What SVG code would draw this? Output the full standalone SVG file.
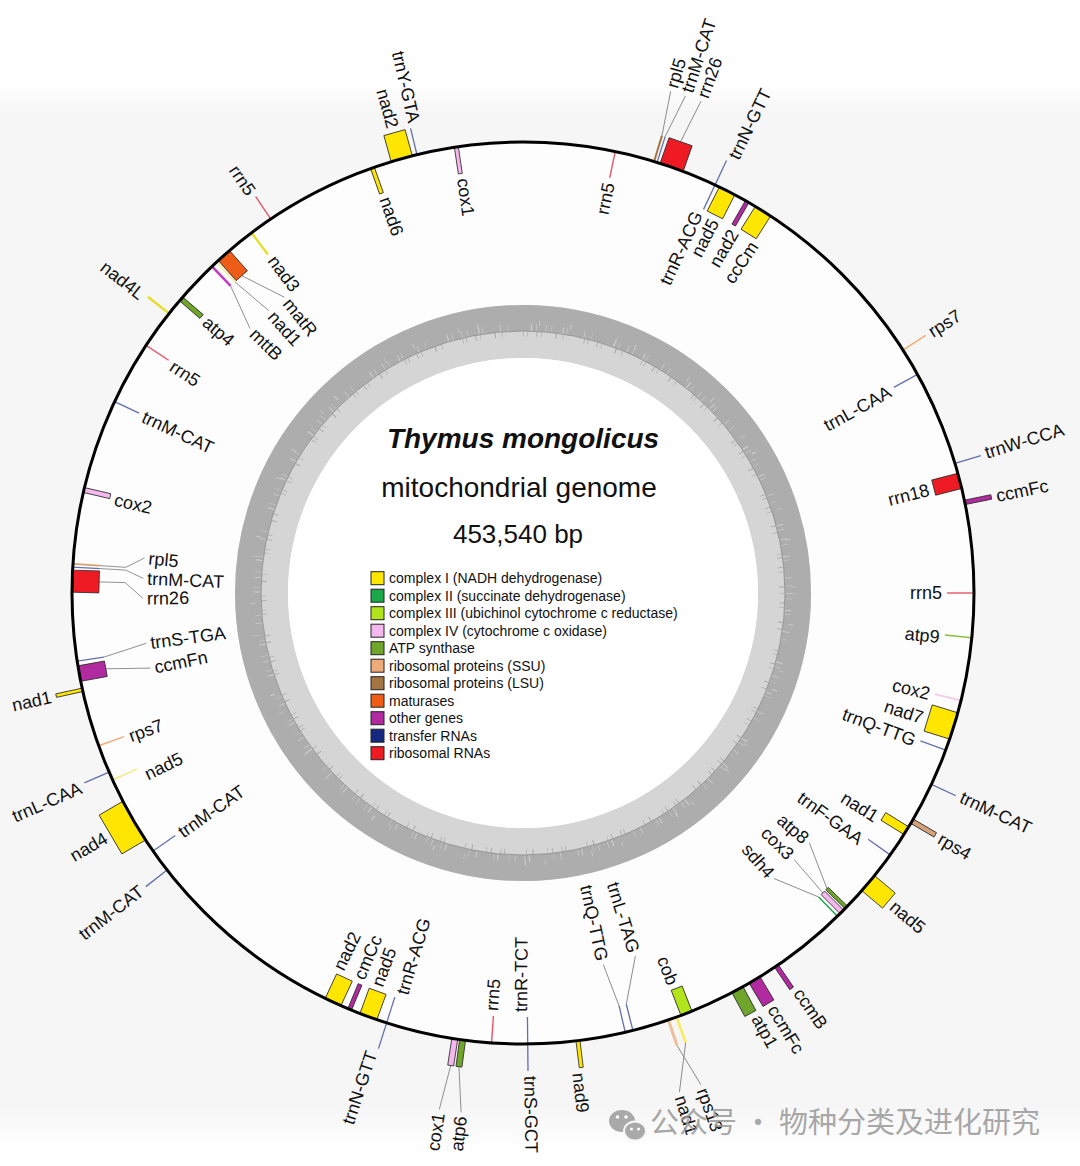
<svg xmlns="http://www.w3.org/2000/svg" width="1080" height="1166" viewBox="0 0 1080 1166">
<defs>
<linearGradient id="bgg" x1="0" y1="0" x2="0" y2="1">
<stop offset="0" stop-color="#ffffff"/><stop offset="0.025" stop-color="#f6f6f6"/><stop offset="0.96" stop-color="#f6f6f6"/><stop offset="1" stop-color="#ffffff"/>
</linearGradient>
</defs>
<style>
.lb{font-family:"Liberation Sans",Arial,Helvetica,sans-serif;font-size:18px;fill:#111}
.e{text-anchor:end}
.lg{font-family:"Liberation Sans",Arial,Helvetica,sans-serif;font-size:14px;fill:#111}
.bx{stroke:#2a2a2a;stroke-width:0.8}
.c1{fill:#ffe600}.c2{fill:#1aa84a}.c3{fill:#b2e41c}.c4{fill:#f4b8ee}.atp{fill:#6ea52a}.ssu{fill:#eeab7a}.lsu{fill:#a47443}.mat{fill:#ef5c17}.oth{fill:#b22aa0}.trn{fill:#15287f}.rrn{fill:#ee1b24}
.tl{fill:#3d4c96;opacity:0.8}
.rl{fill:#e2384c;opacity:0.85}
.ld{fill:none;stroke:#8a8a8a;stroke-width:0.9}
</style>
<rect x="0" y="0" width="1080" height="1166" fill="#ffffff"/>
<rect x="0" y="85" width="1080" height="1065" fill="url(#bgg)"/>

<g transform="translate(523,593)">
  <circle r="451" fill="#fdfdfd"/>
  <g id="gc-ring">
    <circle r="261.5" fill="none" stroke="#d5d5d5" stroke-width="53"/>
    <circle r="275" fill="none" stroke="#adadad" stroke-width="26"/>
    <circle r="265.5" fill="none" stroke="#cdcdcd" stroke-width="7" stroke-dasharray="0.7 5 0.5 11 1 3 0.6 17 0.8 7 0.5 23 1.2 4 0.6 9"/>
    <circle r="270" fill="none" stroke="#d0d0d0" stroke-width="5" stroke-dasharray="0.6 31 0.8 47 0.6 19 1 61"/>
    <circle r="259" fill="none" stroke="#a6a6a6" stroke-width="5" stroke-dasharray="0.6 9 0.8 4 0.5 14 1 6 0.6 21 0.7 3"/>
    <circle r="262" fill="none" stroke="#8a8a8a" stroke-width="0.8"/>
    <circle r="235" fill="#ffffff"/>
  </g>

  <g id="connectors">
    <polyline class="ld" transform="rotate(16.9)" points="0,-478 -4.6,-523"/>
    <polyline class="ld" transform="rotate(17.3)" points="0,-478 7.3,-523"/>
    <polyline class="ld" transform="rotate(19.25)" points="0,-478 5.9,-523"/>
    <polyline class="ld" transform="rotate(134.2)" points="0,-424 -20.6,-379.4"/>
    <polyline class="ld" transform="rotate(135)" points="0,-424 -3.3,-380"/>
    <polyline class="ld" transform="rotate(135.8)" points="0,-424 19.2,-379.5"/>
    <polyline class="ld" transform="rotate(160.1)" points="0,-478 22.8,-522.5"/>
    <polyline class="ld" transform="rotate(161.2)" points="0,-478 -10,-522.9"/>
    <polyline class="ld" transform="rotate(165.9)" points="0,-424 -20.6,-379.4"/>
    <polyline class="ld" transform="rotate(166.9)" points="0,-424 6,-380"/>
    <polyline class="ld" transform="rotate(187.7)" points="0,-478 -8.2,-522.9"/>
    <polyline class="ld" transform="rotate(188.7)" points="0,-478 4.6,-523"/>
    <polyline class="ld" transform="rotate(259.7)" points="0,-424 -7.3,-379.9"/>
    <polyline class="ld" transform="rotate(261.3)" points="0,-424 7.3,-379.9"/>
    <polyline class="ld" transform="rotate(271.5)" points="0,-424 0,-398 -15.3,-379.7"/>
    <polyline class="ld" transform="rotate(273.3)" points="0,-424 0,-398 -7.3,-379.9"/>
    <polyline class="ld" transform="rotate(273.7)" points="0,-424 0,-398 10.6,-379.9"/>
    <polyline class="ld" transform="rotate(316.4)" points="0,-424 -15.3,-379.7"/>
    <polyline class="ld" transform="rotate(317.2)" points="0,-424 5.3,-380"/>
    <polyline class="ld" transform="rotate(318.45)" points="0,-424 17.6,-379.6"/>
  </g>

  <g id="rrn5-1"><rect class="rl" x="-0.7" y="-451" width="1.4" height="27" transform="rotate(11.8)"/><text class="lb e" transform="rotate(11.8) translate(0,-419) rotate(-90)" dy=".35em">rrn5</text></g>
  <g id="rpl5-1"><rect class="lsu" x="-1" y="-478" width="2" height="27" transform="rotate(16.9)"/><text class="lb" transform="rotate(16.4) translate(0,-527) rotate(-90)" dy=".35em">rpl5</text></g>
  <g id="trnM-CAT-1"><rect class="tl" x="-0.65" y="-478" width="1.3" height="27" transform="rotate(17.3)"/><text class="lb" transform="rotate(18.1) translate(0,-527) rotate(-90)" dy=".35em">trnM-CAT</text></g>
  <g id="rrn26-1"><rect class="rrn bx" x="-12.2" y="-478" width="24.4" height="27" transform="rotate(19.25)"/><text class="lb" transform="rotate(19.9) translate(0,-527) rotate(-90)" dy=".35em">rrn26</text></g>
  <g id="trnN-GTT-1"><rect class="tl" x="-0.65" y="-478" width="1.3" height="27" transform="rotate(25.2)"/><text class="lb" transform="rotate(25.8) translate(0,-483) rotate(-90)" dy=".35em">trnN-GTT</text></g>
  <g id="trnR-ACG-1"><rect class="tl" x="-0.65" y="-451" width="1.3" height="27" transform="rotate(25.2)"/><text class="lb e" transform="rotate(24.6) translate(0,-419) rotate(-90)" dy=".35em">trnR-ACG</text></g>
  <g id="nad5-1"><rect class="c1 bx" x="-8.6" y="-451" width="17.3" height="27" transform="rotate(26.9)"/><text class="lb e" transform="rotate(27.1) translate(0,-419) rotate(-90)" dy=".35em">nad5</text></g>
  <g id="nad2-1"><rect class="oth bx" x="-2" y="-451" width="4" height="27" transform="rotate(29.8)"/><text class="lb e" transform="rotate(30.2) translate(0,-419) rotate(-90)" dy=".35em">nad2</text></g>
  <g id="ccCm"><rect class="c1 bx" x="-9" y="-451" width="18" height="27" transform="rotate(32.15)"/><text class="lb e" transform="rotate(33.4) translate(0,-419) rotate(-90)" dy=".35em">ccCm</text></g>
  <g id="rps7-1"><rect class="ssu" x="-0.75" y="-478" width="1.5" height="27" transform="rotate(57.4)"/><text class="lb" transform="rotate(57.4) translate(0,-483) rotate(-90)" dy=".35em">rps7</text></g>
  <g id="trnL-CAA-1"><rect class="tl" x="-0.65" y="-451" width="1.3" height="27" transform="rotate(61)"/><text class="lb e" transform="rotate(61.1) translate(0,-419) rotate(-90)" dy=".35em">trnL-CAA</text></g>
  <g id="trnW-CCA"><rect class="tl" x="-0.65" y="-478" width="1.3" height="27" transform="rotate(73.3)"/><text class="lb" transform="rotate(73.1) translate(0,-483) rotate(-90)" dy=".35em">trnW-CCA</text></g>
  <g id="rrn18"><rect class="rrn bx" x="-7.8" y="-451" width="15.7" height="27" transform="rotate(75.6)"/><text class="lb e" transform="rotate(75.7) translate(0,-419) rotate(-90)" dy=".35em">rrn18</text></g>
  <g id="ccmFc-1"><rect class="oth bx" x="-2.2" y="-478" width="4.5" height="27" transform="rotate(78.4)"/><text class="lb" transform="rotate(78.4) translate(0,-483) rotate(-90)" dy=".35em">ccmFc</text></g>
  <g id="rrn5-2"><rect class="rl" x="-0.7" y="-451" width="1.4" height="27" transform="rotate(90)"/><text class="lb e" transform="rotate(90) translate(0,-419) rotate(-90)" dy=".35em">rrn5</text></g>
  <g id="atp9"><rect fill="#8cbf38" x="-0.75" y="-451" width="1.5" height="27" transform="rotate(95.7)"/><text class="lb e" transform="rotate(96) translate(0,-419) rotate(-90)" dy=".35em">atp9</text></g>
  <g id="cox2-1"><rect fill="#f3cdea" x="-1" y="-451" width="2" height="27" transform="rotate(103.8)"/><text class="lb e" transform="rotate(103.9) translate(0,-419) rotate(-90)" dy=".35em">cox2</text></g>
  <g id="nad7"><rect class="c1 bx" x="-13.75" y="-451" width="27.5" height="27" transform="rotate(107.15)"/><text class="lb e" transform="rotate(107.3) translate(0,-419) rotate(-90)" dy=".35em">nad7</text></g>
  <g id="trnQ-TTG-1"><rect class="tl" x="-0.65" y="-451" width="1.3" height="27" transform="rotate(110.4)"/><text class="lb e" transform="rotate(110.6) translate(0,-419) rotate(-90)" dy=".35em">trnQ-TTG</text></g>
  <g id="trnM-CAT-2"><rect class="tl" x="-0.65" y="-478" width="1.3" height="27" transform="rotate(115.1)"/><text class="lb" transform="rotate(114.9) translate(0,-483) rotate(-90)" dy=".35em">trnM-CAT</text></g>
  <g id="rps4"><rect fill="#d6a27a" class="bx" x="-2.5" y="-478" width="5" height="27" transform="rotate(120.4)"/><text class="lb" transform="rotate(120.4) translate(0,-483) rotate(-90)" dy=".35em">rps4</text></g>
  <g id="nad1-1"><rect class="c1 bx" x="-4.5" y="-451" width="9" height="27" transform="rotate(121.8)"/><text class="lb e" transform="rotate(122.4) translate(0,-419) rotate(-90)" dy=".35em">nad1</text></g>
  <g id="trnF-GAA"><rect class="tl" x="-0.65" y="-451" width="1.3" height="27" transform="rotate(125.5)"/><text class="lb e" transform="rotate(126.2) translate(0,-419) rotate(-90)" dy=".35em">trnF-GAA</text></g>
  <g id="nad5-2"><rect class="c1 bx" x="-9.85" y="-478" width="19.7" height="27" transform="rotate(130.05)"/><text class="lb" transform="rotate(130.1) translate(0,-483) rotate(-90)" dy=".35em">nad5</text></g>
  <g id="atp8"><rect class="atp bx" x="-1.75" y="-451" width="3.5" height="27" transform="rotate(134.2)"/><text class="lb e" transform="rotate(131.1) translate(0,-376) rotate(-90)" dy=".35em">atp8</text></g>
  <g id="cox3"><rect class="c4 bx" x="-2.5" y="-451" width="5" height="27" transform="rotate(135)"/><text class="lb e" transform="rotate(134.5) translate(0,-376) rotate(-90)" dy=".35em">cox3</text></g>
  <g id="sdh4"><rect class="c2" x="-0.75" y="-451" width="1.5" height="27" transform="rotate(135.8)"/><text class="lb e" transform="rotate(138.7) translate(0,-376) rotate(-90)" dy=".35em">sdh4</text></g>
  <g id="ccmB"><rect class="oth bx" x="-2.2" y="-478" width="4.5" height="27" transform="rotate(145.8)"/><text class="lb" transform="rotate(145.3) translate(0,-483) rotate(-90)" dy=".35em">ccmB</text></g>
  <g id="ccmFc-2"><rect class="oth bx" x="-6.3" y="-478" width="12.6" height="27" transform="rotate(149.1)"/><text class="lb" transform="rotate(148.9) translate(0,-483) rotate(-90)" dy=".35em">ccmFc</text></g>
  <g id="atp1"><rect class="atp bx" x="-6.3" y="-478" width="12.6" height="27" transform="rotate(151.6)"/><text class="lb" transform="rotate(151.1) translate(0,-483) rotate(-90)" dy=".35em">atp1</text></g>
  <g id="cob"><rect class="c3 bx" x="-5.9" y="-451" width="11.8" height="27" transform="rotate(158.75)"/><text class="lb e" transform="rotate(159) translate(0,-419) rotate(-90)" dy=".35em">cob</text></g>
  <g id="nad1-2"><rect fill="#f8ec70" x="-1.5" y="-478" width="3" height="27" transform="rotate(160.1)"/><text class="lb" transform="rotate(162.6) translate(0,-527) rotate(-90)" dy=".35em">nad1</text></g>
  <g id="rps13"><rect fill="#eec09a" x="-1.5" y="-478" width="3" height="27" transform="rotate(161.2)"/><text class="lb" transform="rotate(160.1) translate(0,-527) rotate(-90)" dy=".35em">rps13</text></g>
  <g id="trnL-TAG"><rect class="tl" x="-0.65" y="-451" width="1.3" height="27" transform="rotate(165.9)"/><text class="lb e" transform="rotate(162.8) translate(0,-376) rotate(-90)" dy=".35em">trnL-TAG</text></g>
  <g id="trnQ-TTG-2"><rect class="tl" x="-0.65" y="-451" width="1.3" height="27" transform="rotate(166.9)"/><text class="lb e" transform="rotate(167.8) translate(0,-376) rotate(-90)" dy=".35em">trnQ-TTG</text></g>
  <g id="nad9"><rect class="c1 bx" x="-2" y="-478" width="4" height="27" transform="rotate(173)"/><text class="lb" transform="rotate(173.4) translate(0,-483) rotate(-90)" dy=".35em">nad9</text></g>
  <g id="trnS-GCT"><rect class="tl" x="-0.65" y="-478" width="1.3" height="27" transform="rotate(179.4)"/><text class="lb" transform="rotate(179.1) translate(0,-483) rotate(-90)" dy=".35em">trnS-GCT</text></g>
  <g id="trnR-TCT"><rect class="tl" x="-0.65" y="-451" width="1.3" height="27" transform="rotate(179.4)"/><text class="lb" transform="rotate(180.3) translate(0,-419) rotate(90)" dy=".35em">trnR-TCT</text></g>
  <g id="rrn5-3"><rect class="rl" x="-0.7" y="-451" width="1.4" height="27" transform="rotate(184)"/><text class="lb" transform="rotate(184.3) translate(0,-419) rotate(90)" dy=".35em">rrn5</text></g>
  <g id="atp6"><rect class="atp bx" x="-3" y="-478" width="6" height="27" transform="rotate(187.7)"/><text class="lb e" transform="rotate(186.8) translate(0,-527) rotate(90)" dy=".35em">atp6</text></g>
  <g id="cox1-2"><rect class="c4 bx" x="-3" y="-478" width="6" height="27" transform="rotate(188.7)"/><text class="lb e" transform="rotate(189.2) translate(0,-527) rotate(90)" dy=".35em">cox1</text></g>
  <g id="trnN-GTT-2"><rect class="tl" x="-0.65" y="-478" width="1.3" height="27" transform="rotate(197.6)"/><text class="lb e" transform="rotate(198.3) translate(0,-483) rotate(90)" dy=".35em">trnN-GTT</text></g>
  <g id="trnR-ACG-2"><rect class="tl" x="-0.65" y="-451" width="1.3" height="27" transform="rotate(197.6)"/><text class="lb" transform="rotate(196.8) translate(0,-419) rotate(90)" dy=".35em">trnR-ACG</text></g>
  <g id="nad5-3"><rect class="c1 bx" x="-9" y="-451" width="18" height="27" transform="rotate(200.05)"/><text class="lb" transform="rotate(200.4) translate(0,-419) rotate(90)" dy=".35em">nad5</text></g>
  <g id="cmCc"><rect class="oth bx" x="-2" y="-451" width="4" height="27" transform="rotate(202.6)"/><text class="lb" transform="rotate(203.1) translate(0,-419) rotate(90)" dy=".35em">cmCc</text></g>
  <g id="nad2-2"><rect class="c1 bx" x="-8.6" y="-451" width="17.3" height="27" transform="rotate(204.9)"/><text class="lb" transform="rotate(206.2) translate(0,-419) rotate(90)" dy=".35em">nad2</text></g>
  <g id="trnM-CAT-3"><rect class="tl" x="-0.65" y="-478" width="1.3" height="27" transform="rotate(232.1)"/><text class="lb e" transform="rotate(232.2) translate(0,-483) rotate(90)" dy=".35em">trnM-CAT</text></g>
  <g id="trnM-CAT-4"><rect class="tl" x="-0.65" y="-451" width="1.3" height="27" transform="rotate(235.1)"/><text class="lb" transform="rotate(235) translate(0,-419) rotate(90)" dy=".35em">trnM-CAT</text></g>
  <g id="nad4"><rect class="c1 bx" x="-22.45" y="-478" width="44.9" height="27" transform="rotate(239.65)"/><text class="lb e" transform="rotate(239.7) translate(0,-483) rotate(90)" dy=".35em">nad4</text></g>
  <g id="nad5-4"><rect fill="#f4ea80" x="-0.75" y="-451" width="1.5" height="27" transform="rotate(245.5)"/><text class="lb" transform="rotate(244.3) translate(0,-419) rotate(90)" dy=".35em">nad5</text></g>
  <g id="trnL-CAA-2"><rect class="tl" x="-0.65" y="-478" width="1.3" height="27" transform="rotate(246.6)"/><text class="lb e" transform="rotate(246.3) translate(0,-483) rotate(90)" dy=".35em">trnL-CAA</text></g>
  <g id="rps7-2"><rect class="ssu" x="-0.75" y="-451" width="1.5" height="27" transform="rotate(250.2)"/><text class="lb" transform="rotate(250) translate(0,-419) rotate(90)" dy=".35em">rps7</text></g>
  <g id="nad1-3"><rect class="c1 bx" x="-1.75" y="-478" width="3.5" height="27" transform="rotate(257.6)"/><text class="lb e" transform="rotate(257.6) translate(0,-483) rotate(90)" dy=".35em">nad1</text></g>
  <g id="ccmFn"><rect class="oth bx" x="-7.8" y="-451" width="15.7" height="27" transform="rotate(259.7)"/><text class="lb" transform="rotate(258.6) translate(0,-376) rotate(90)" dy=".35em">ccmFn</text></g>
  <g id="trnS-TGA"><rect class="tl" x="-0.65" y="-451" width="1.3" height="27" transform="rotate(261.3)"/><text class="lb" transform="rotate(262.4) translate(0,-376) rotate(90)" dy=".35em">trnS-TGA</text></g>
  <g id="rrn26-2"><rect class="rrn bx" x="-11" y="-451" width="22" height="27" transform="rotate(271.5)"/><text class="lb" transform="rotate(269.2) translate(0,-376) rotate(90)" dy=".35em">rrn26</text></g>
  <g id="trnM-CAT-5"><rect class="tl" x="-0.65" y="-451" width="1.3" height="27" transform="rotate(273.3)"/><text class="lb" transform="rotate(272.2) translate(0,-376) rotate(90)" dy=".35em">trnM-CAT</text></g>
  <g id="rpl5-2"><rect fill="#d9a070" x="-0.9" y="-451" width="1.8" height="27" transform="rotate(273.7)"/><text class="lb" transform="rotate(275.3) translate(0,-376) rotate(90)" dy=".35em">rpl5</text></g>
  <g id="cox2-2"><rect class="c4 bx" x="-2.5" y="-451" width="5" height="27" transform="rotate(283.2)"/><text class="lb" transform="rotate(282.9) translate(0,-419) rotate(90)" dy=".35em">cox2</text></g>
  <g id="trnM-CAT-6"><rect class="tl" x="-0.65" y="-451" width="1.3" height="27" transform="rotate(295.1)"/><text class="lb" transform="rotate(295) translate(0,-419) rotate(90)" dy=".35em">trnM-CAT</text></g>
  <g id="rrn5-4"><rect class="rl" x="-0.7" y="-451" width="1.4" height="27" transform="rotate(303.3)"/><text class="lb" transform="rotate(303) translate(0,-419) rotate(90)" dy=".35em">rrn5</text></g>
  <g id="nad4L"><rect fill="#e6df30" x="-1.25" y="-478" width="2.5" height="27" transform="rotate(308.3)"/><text class="lb e" transform="rotate(308) translate(0,-483) rotate(90)" dy=".35em">nad4L</text></g>
  <g id="atp4"><rect class="atp bx" x="-2.5" y="-451" width="5" height="27" transform="rotate(310.7)"/><text class="lb" transform="rotate(310.7) translate(0,-419) rotate(90)" dy=".35em">atp4</text></g>
  <g id="mttB"><rect fill="#c23cc0" x="-1.25" y="-451" width="2.5" height="27" transform="rotate(316.4)"/><text class="lb" transform="rotate(314.1) translate(0,-376) rotate(90)" dy=".35em">mttB</text></g>
  <g id="nad1-4"><rect fill="#f6efa8" x="-1" y="-451" width="2" height="27" transform="rotate(317.2)"/><text class="lb" transform="rotate(318) translate(0,-376) rotate(90)" dy=".35em">nad1</text></g>
  <g id="matR"><rect class="mat bx" x="-7.5" y="-451" width="15" height="27" transform="rotate(318.45)"/><text class="lb" transform="rotate(321.1) translate(0,-376) rotate(90)" dy=".35em">matR</text></g>
  <g id="nad3"><rect fill="#e6df30" x="-1.25" y="-451" width="2.5" height="27" transform="rotate(323)"/><text class="lb" transform="rotate(323.2) translate(0,-419) rotate(90)" dy=".35em">nad3</text></g>
  <g id="rrn5-5"><rect class="rl" x="-0.7" y="-478" width="1.4" height="27" transform="rotate(326)"/><text class="lb e" transform="rotate(325.8) translate(0,-483) rotate(90)" dy=".35em">rrn5</text></g>
  <g id="nad6"><rect class="c1 bx" x="-2" y="-451" width="4" height="27" transform="rotate(340.5)"/><text class="lb" transform="rotate(340.8) translate(0,-419) rotate(90)" dy=".35em">nad6</text></g>
  <g id="nad2-3"><rect class="c1 bx" x="-11" y="-478" width="22" height="27" transform="rotate(344.4)"/><text class="lb e" transform="rotate(344.4) translate(0,-483) rotate(90)" dy=".35em">nad2</text></g>
  <g id="trnY-GTA"><rect class="tl" x="-0.65" y="-478" width="1.3" height="27" transform="rotate(346.4)"/><text class="lb e" transform="rotate(347) translate(0,-483) rotate(90)" dy=".35em">trnY-GTA</text></g>
  <g id="cox1-1"><rect class="c4 bx" x="-2" y="-451" width="4" height="27" transform="rotate(351.5)"/><text class="lb" transform="rotate(351.8) translate(0,-419) rotate(90)" dy=".35em">cox1</text></g>

  <circle id="genome" r="451" fill="none" stroke="#000" stroke-width="3"/>
</g>

<g id="title" font-family="Liberation Sans, Arial, Helvetica, sans-serif" fill="#111" text-anchor="middle">
  <text x="523" y="448" font-size="28" font-weight="bold" font-style="italic">Thymus mongolicus</text>
  <text x="519" y="497" font-size="28">mitochondrial genome</text>
  <text x="518" y="543" font-size="26">453,540 bp</text>
</g>

<g id="legend">
  <rect class="c1" x="371" y="571.7" width="13" height="13" stroke="#222"/>
  <rect class="c2" x="371" y="589.2" width="13" height="13" stroke="#222"/>
  <rect class="c3" x="371" y="606.7" width="13" height="13" stroke="#222"/>
  <rect class="c4" x="371" y="624.2" width="13" height="13" stroke="#222"/>
  <rect class="atp" x="371" y="641.7" width="13" height="13" stroke="#222"/>
  <rect class="ssu" x="371" y="659.2" width="13" height="13" stroke="#222"/>
  <rect class="lsu" x="371" y="676.7" width="13" height="13" stroke="#222"/>
  <rect class="mat" x="371" y="694.2" width="13" height="13" stroke="#222"/>
  <rect class="oth" x="371" y="711.7" width="13" height="13" stroke="#222"/>
  <rect class="trn" x="371" y="729.2" width="13" height="13" stroke="#222"/>
  <rect class="rrn" x="371" y="746.7" width="13" height="13" stroke="#222"/>
  <text class="lg" x="389" y="583">complex I (NADH dehydrogenase)</text>
  <text class="lg" x="389" y="600.5">complex II (succinate dehydrogenase)</text>
  <text class="lg" x="389" y="618">complex III (ubichinol cytochrome c reductase)</text>
  <text class="lg" x="389" y="635.5">complex IV (cytochrome c oxidase)</text>
  <text class="lg" x="389" y="653">ATP synthase</text>
  <text class="lg" x="389" y="670.5">ribosomal proteins (SSU)</text>
  <text class="lg" x="389" y="688">ribosomal proteins (LSU)</text>
  <text class="lg" x="389" y="705.5">maturases</text>
  <text class="lg" x="389" y="723">other genes</text>
  <text class="lg" x="389" y="740.5">transfer RNAs</text>
  <text class="lg" x="389" y="758">ribosomal RNAs</text>
</g>

<g id="watermark">
  <ellipse cx="622" cy="1121" rx="13" ry="11" fill="#a9a9a9"/>
  <ellipse cx="635" cy="1131" rx="11" ry="9.5" fill="#a9a9a9" stroke="#f6f6f6" stroke-width="2"/>
  <circle cx="617.5" cy="1117" r="1.8" fill="#fff"/><circle cx="626" cy="1117" r="1.8" fill="#fff"/>
  <circle cx="631.5" cy="1129" r="1.5" fill="#fff"/><circle cx="638.5" cy="1129" r="1.5" fill="#fff"/>
  <text x="650" y="1133" font-family="Noto Sans CJK SC, sans-serif" font-size="29" fill="#9c9c9c" fill-opacity="0.9">公众号 · 物种分类及进化研究</text>
</g>
</svg>
